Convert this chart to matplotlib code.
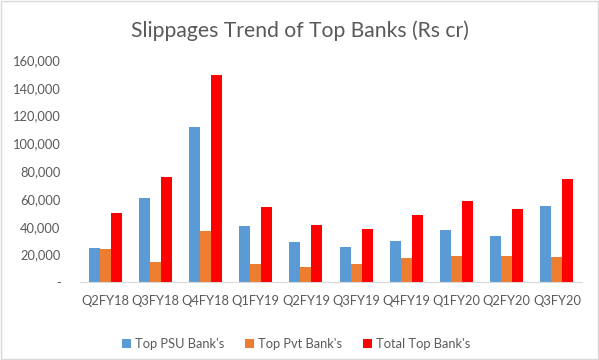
import numpy as np
import matplotlib.pyplot as plt
from matplotlib.ticker import FuncFormatter
from matplotlib.patches import Rectangle

quarters = ['Q2FY18', 'Q3FY18', 'Q4FY18', 'Q1FY19', 'Q2FY19',
            'Q3FY19', 'Q4FY19', 'Q1FY20', 'Q2FY20', 'Q3FY20']
psu = [24500, 60500, 111500, 40500, 29000, 25500, 30000, 38000, 33500, 55000]
pvt = [23700, 14800, 37000, 12900, 11200, 13100, 17400, 19100, 19100, 18400]
total = [49700, 75800, 149000, 54300, 41600, 38700, 48800, 58600, 53100, 74600]

series = [("Top PSU Bank's", psu, '#5B9BD5'),
          ("Top Pvt Bank's", pvt, '#ED7D31'),
          ("Total Top Bank's", total, '#FF0000')]

plt.rcParams['font.family'] = ['Lato', 'DejaVu Sans']

fig = plt.figure(figsize=(5.99, 3.6), dpi=100)
ax = fig.add_axes([0.1336, 0.2158, 0.838, 0.6175])

x = np.arange(len(quarters))
w = 0.22
for i, (name, vals, col) in enumerate(series):
    ax.bar(x + (i - 1) * w, vals, w, color=col, label=name)

ax.set_xlim(-0.5, len(quarters) - 0.5)
ax.set_ylim(0, 160000)
ax.set_yticks(range(0, 160001, 20000))
ax.yaxis.set_major_formatter(FuncFormatter(lambda v, p: '-' if v == 0 else f'{int(v):,}'))
ax.set_xticks(x)
ax.set_xticklabels(quarters)
ax.tick_params(axis='both', length=0, colors='#595959', labelsize=9.3)
ax.tick_params(axis='x', pad=9)
ax.tick_params(axis='y', pad=14)
for s in ['top', 'right', 'left']:
    ax.spines[s].set_visible(False)
ax.spines['bottom'].set_color('#D9D9D9')

fig.text(0.5, 0.915, 'Slippages Trend of Top Banks (Rs cr)', ha='center', va='center',
         fontsize=15.2, color='#595959')

ax.legend(loc='center', bbox_to_anchor=(0.494, 0.045), bbox_transform=fig.transFigure,
          ncol=3, frameon=False, fontsize=9.3, handlelength=0.7, handleheight=0.7,
          handletextpad=0.3, columnspacing=1.6, labelcolor='#595959')

fig.patches.append(Rectangle((0.002, 0.003), 0.996, 0.994, transform=fig.transFigure,
                             fill=False, edgecolor='#D9D9D9', linewidth=1))

fig.savefig('out.png', dpi=100)
